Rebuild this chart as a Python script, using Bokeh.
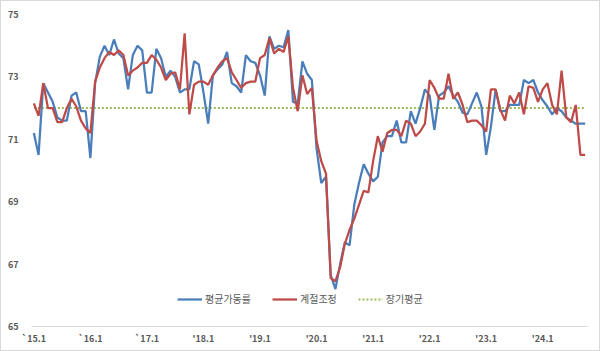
from bokeh.plotting import figure
from bokeh.models import FixedTicker, Legend, LegendItem, InlineStyleSheet
from bokeh.embed import file_html
from bokeh.resources import INLINE

# 2015.1 ~ 2024.10 monthly
util_avg = [71.2, 70.5, 72.8, 72.5, 72.2, 71.7, 71.6, 71.6, 72.4, 72.5, 71.9, 71.9,
            70.4, 72.8, 73.65, 74.0, 73.7, 74.2, 73.75, 73.6, 72.6, 73.7, 74.0, 73.85,
            72.5, 72.5, 73.9, 73.6, 73.0, 73.2, 73.0, 72.5, 72.6, 72.6, 73.5, 73.4,
            72.5, 71.5, 73.05, 73.25, 73.4, 73.8, 72.8, 72.7, 72.5, 73.7, 73.5, 73.45,
            73.05, 72.4, 74.3, 73.9, 74.0, 73.95, 74.5, 72.2, 72.15, 73.5, 73.1, 72.9,
            70.7, 69.6, 69.8, 66.65, 66.2, 67.0, 67.7, 67.6, 68.9, 69.6, 70.2, 69.9,
            69.65, 69.8, 70.9, 71.1, 71.1, 71.6, 70.9, 70.9, 71.9, 71.5, 72.0, 72.6,
            72.4, 71.3, 72.4, 72.5, 72.7, 72.4, 72.2, 71.85, 71.8, 72.15, 72.5, 72.05,
            70.5, 71.4, 72.6, 71.9, 71.9, 72.1, 72.1, 72.1, 72.9, 72.8, 72.9, 72.5,
            72.25, 72.05, 71.8, 72.0, 71.9, 71.7, 71.6, 71.5, 71.5, 71.5]

seasonal_adj = [72.15, 71.75, 72.8, 72.0, 72.0, 71.55, 71.55, 72.0, 72.3, 72.05, 71.6, 71.35,
                71.2, 72.85, 73.3, 73.6, 73.8, 73.7, 73.85, 73.7, 73.05, 73.2, 73.3, 73.45,
                73.45, 73.7, 73.55, 73.3, 72.9, 73.1, 73.15, 72.6, 74.4, 71.8, 72.75, 72.85,
                72.85, 72.75, 73.05, 73.3, 73.5, 73.6, 73.15, 72.9, 72.65, 72.8, 72.85, 72.85,
                73.6, 73.7, 74.25, 73.75, 73.9, 73.8, 74.3, 72.65, 71.9, 73.05, 72.45, 72.65,
                70.95, 70.3, 69.9, 66.55, 66.45, 66.9, 67.65, 68.1, 68.45, 68.9, 69.35, 69.3,
                70.3, 71.1, 70.6, 71.2, 71.3, 71.3, 71.1, 71.6, 71.5, 71.1, 71.25, 71.5,
                72.9, 72.65, 72.3, 72.3, 73.1, 72.3, 72.5, 72.1, 71.55, 71.6, 71.6, 71.45,
                71.25, 72.6, 72.6, 71.95, 71.6, 72.4, 72.15, 72.5, 71.8, 72.7, 72.65, 72.2,
                72.6, 72.8, 72.1, 71.8, 73.2, 71.7, 71.55, 72.1, 70.5, 70.5]

long_term_avg = 72.0
avg_line = [long_term_avg] * len(util_avg)

tick_positions = [0, 12, 24, 36, 48, 60, 72, 84, 96, 108]
tick_labels = ["`15.1", "`16.1", "`17.1", "'18.1", "'19.1", "'20.1", "'21.1", "'22.1", "'23.1", "'24.1"]
y_ticks = [65, 67, 69, 71, 73, 75]

months = list(range(len(util_avg)))

FONT = "Noto Sans CJK KR"
GRAY = "#595959"

p = figure(width=600, height=351, output_backend="svg", toolbar_location=None,
           x_range=(-0.5, 117.5), y_range=(65, 75),
           min_border_left=30, min_border_right=14, min_border_top=13, min_border_bottom=26)
p.stylesheets = [InlineStyleSheet(css=":host { border: 1px solid #D9D9D9; box-sizing: border-box; }")]
p.outline_line_color = None
p.xgrid.visible = False
p.ygrid.visible = False

r_avg = p.line(months, avg_line, line_color="#9BBB59", line_width=2, line_dash="2 2")
r_blue = p.line(months, util_avg, line_color="#4A7EBB", line_width=2.25)
r_red = p.line(months, seasonal_adj, line_color="#BE4B48", line_width=2.25)

p.yaxis.ticker = FixedTicker(ticks=y_ticks)
p.yaxis.axis_line_color = None
p.yaxis.major_tick_line_color = None
p.yaxis.minor_tick_line_color = None
p.yaxis.major_label_standoff = 7
p.yaxis.major_label_text_font_size = "9px"
p.yaxis.major_label_text_font_style = "bold"
p.yaxis.major_label_text_color = GRAY
p.yaxis.major_label_text_font = FONT

p.xaxis.ticker = FixedTicker(ticks=tick_positions)
p.xaxis.major_label_overrides = {t: l for t, l in zip(tick_positions, tick_labels)}
p.xaxis.axis_line_color = "#D9D9D9"
p.xaxis.major_tick_line_color = None
p.xaxis.minor_tick_line_color = None
p.xaxis.major_tick_out = 0
p.xaxis.major_tick_in = 0
p.xaxis.major_label_standoff = 5
p.xaxis.major_label_text_font_size = "9px"
p.xaxis.major_label_text_font_style = "bold"
p.xaxis.major_label_text_color = GRAY
p.xaxis.major_label_text_font = FONT

legend = Legend(items=[LegendItem(label="평균가동률", renderers=[r_blue]),
                       LegendItem(label="계절조정", renderers=[r_red]),
                       LegendItem(label="장기평균", renderers=[r_avg])],
                orientation="horizontal", location=(146, 20),
                glyph_width=25, glyph_height=12, label_standoff=3, spacing=21,
                padding=0, margin=0, border_line_color=None, background_fill_alpha=0,
                label_text_font=FONT, label_text_font_size="10px", label_text_color=GRAY)
p.add_layout(legend)

open("out.html", "w").write(file_html(p, INLINE))
